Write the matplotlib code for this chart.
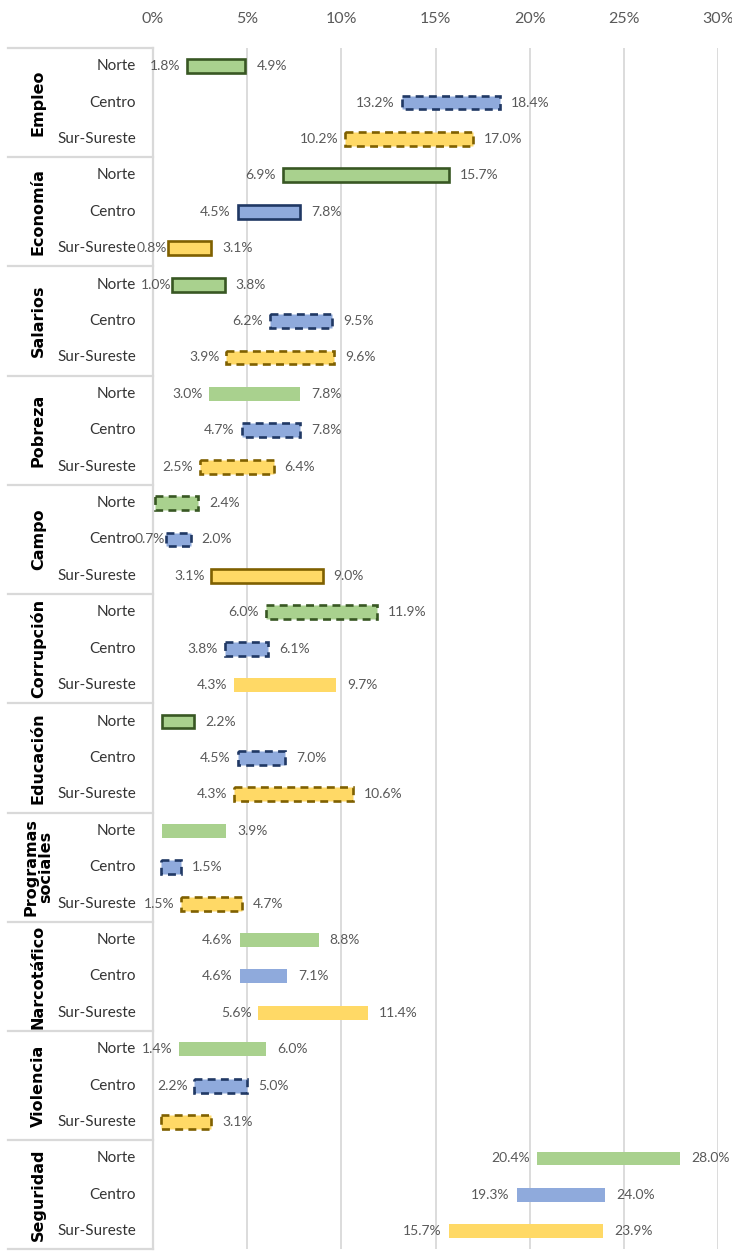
"""Range bars by region for each problem area (low/high share)."""

import matplotlib

matplotlib.use("Agg")

import matplotlib.pyplot as plt
import matplotlib.transforms as mtransforms
from matplotlib.ticker import FuncFormatter


GROUPS = ["Empleo", "Economía", "Salarios", "Pobreza", "Campo", "Corrupción",
          "Educación", "Programas\nsociales", "Narcotáfico", "Violencia", "Seguridad"]
REGIONS = ["Norte", "Centro", "Sur-Sureste"]

# lower end of each range, rows = groups, cols = Norte / Centro / Sur-Sureste
LOW = [
    [1.8, 13.2, 10.2],
    [6.9, 4.5, 0.8],
    [1.0, 6.2, 3.9],
    [3.0, 4.7, 2.5],
    [0.1, 0.7, 3.1],
    [6.0, 3.8, 4.3],
    [0.5, 4.5, 4.3],
    [0.5, 0.4, 1.5],
    [4.6, 4.6, 5.6],
    [1.4, 2.2, 0.4],
    [20.4, 19.3, 15.7],
]
HIGH = [
    [4.9, 18.4, 17.0],
    [15.7, 7.8, 3.1],
    [3.8, 9.5, 9.6],
    [7.8, 7.8, 6.4],
    [2.4, 2.0, 9.0],
    [11.9, 6.1, 9.7],
    [2.2, 7.0, 10.6],
    [3.9, 1.5, 4.7],
    [8.8, 7.1, 11.4],
    [6.0, 5.0, 3.1],
    [28.0, 24.0, 23.9],
]
# which low-end labels the original chart leaves out
LOW_LABEL_SHOWN = [
    [True, True, True],
    [True, True, True],
    [True, True, True],
    [True, True, True],
    [False, True, True],
    [True, True, True],
    [False, True, True],
    [False, False, True],
    [True, True, True],
    [True, True, False],
    [True, True, True],
]
# outline of each bar: solid, dashed or none
OUTLINE = [
    ["solid", "dashed", "dashed"],
    ["solid", "solid", "solid"],
    ["solid", "dashed", "dashed"],
    ["none", "dashed", "dashed"],
    ["dashed", "dashed", "solid"],
    ["dashed", "dashed", "none"],
    ["solid", "dashed", "dashed"],
    ["none", "dashed", "dashed"],
    ["none", "none", "none"],
    ["none", "dashed", "dashed"],
    ["none", "none", "none"],
]
TICKS = [0, 5, 10, 15, 20, 25, 30]

FILLS = ["#A9D18E", "#8FAADC", "#FFD966"]
EDGES = ["#385723", "#203864", "#7F6000"]
GRID = "#D9D9D9"
LABEL = "#595959"
NARROW = ["Lato", "DejaVu Sans"]


def main():
    fig = plt.figure(figsize=(7.32, 12.52), dpi=100)
    ax = fig.add_axes([0.209, 0.002, 0.772, 0.9597])

    n_rows = len(GROUPS) * len(REGIONS)
    ax.set_xlim(0, 30)
    ax.set_ylim(n_rows, 0)

    row = 0
    for g in range(len(GROUPS)):
        for r in range(len(REGIONS)):
            lo, hi = LOW[g][r], HIGH[g][r]
            y = row + 0.5
            style = OUTLINE[g][r]
            bar = ax.barh(y, hi - lo, left=lo, height=0.38, color=FILLS[r],
                          edgecolor=EDGES[r] if style != "none" else "none",
                          linewidth=1.9 if style != "none" else 0, zorder=3)[0]
            if style == "dashed":
                bar.set_linestyle((0, (3, 2)))
            bar.set_joinstyle("miter")

            ax.annotate(f"{hi:.1f}%", (hi, y), xytext=(8, 0), textcoords="offset points",
                        ha="left", va="center", fontsize=10, color=LABEL, family=NARROW)
            if LOW_LABEL_SHOWN[g][r]:
                # labels close to the axis hug the bar, as in the original
                gap = -0.5 if lo < 1.2 else -5
                ax.annotate(f"{lo:.1f}%", (lo, y), xytext=(gap, 0), textcoords="offset points",
                            ha="right", va="center", fontsize=10, color=LABEL, family=NARROW)
            row += 1

    # region names and group names sit left of the axis
    trans = mtransforms.blended_transform_factory(ax.transAxes, ax.transData)
    row = 0
    for g, group in enumerate(GROUPS):
        top = row
        for region in REGIONS:
            ax.text(-0.03, row + 0.5, region, transform=trans, ha="right", va="center",
                    fontsize=11, color="#333333", family=NARROW)
            row += 1
        ax.text(-0.203, (top + row) / 2, group, transform=trans, ha="center", va="center",
                rotation=90, fontsize=11.5, fontweight="bold", color="black",
                linespacing=0.95)
        ax.plot([-0.257, 0], [top, top], transform=trans, color=GRID, lw=1.6,
                clip_on=False, zorder=1)
    ax.plot([-0.257, 0], [row, row], transform=trans, color=GRID, lw=1.6,
            clip_on=False, zorder=1)

    ax.set_xticks(TICKS)
    ax.xaxis.set_major_formatter(FuncFormatter(lambda v, _: f"{v:.0f}%"))
    ax.xaxis.tick_top()
    ax.tick_params(axis="x", length=0, pad=16, labelsize=11.5, labelcolor=LABEL)
    for lab in ax.get_xticklabels():
        lab.set_family(NARROW)
    ax.set_yticks([])
    ax.grid(axis="x", color=GRID, lw=1.3, zorder=0)
    for name, spine in ax.spines.items():
        spine.set_visible(name == "left")
    ax.spines["left"].set_color(GRID)
    ax.spines["left"].set_linewidth(1.6)

    fig.savefig("out.png", dpi=100, facecolor="white")
    plt.close(fig)


if __name__ == "__main__":
    main()
